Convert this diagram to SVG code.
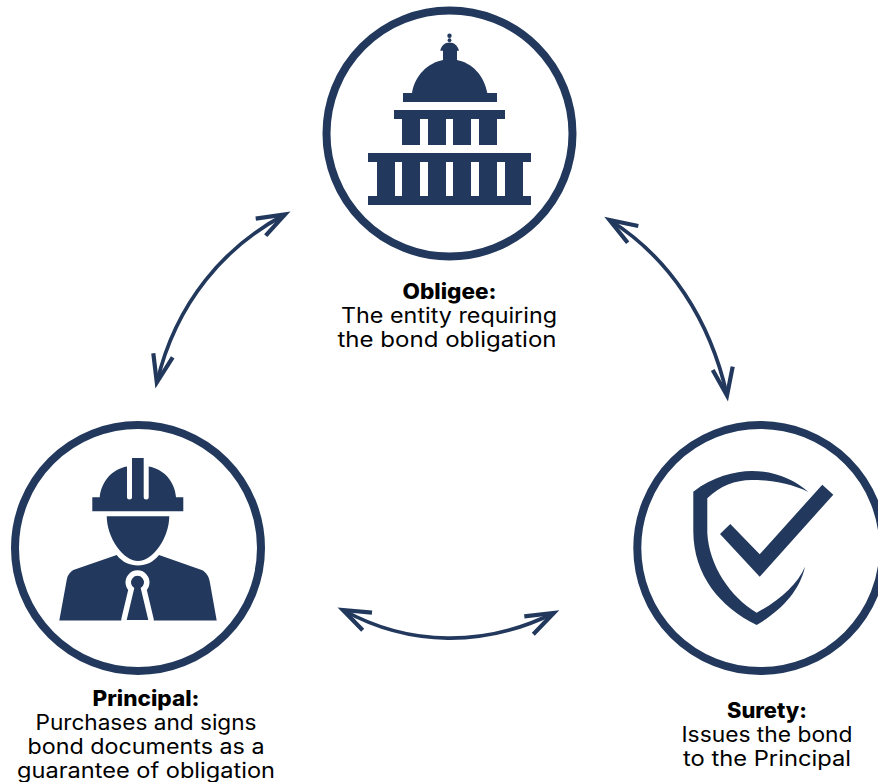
<svg xmlns="http://www.w3.org/2000/svg" width="878" height="782" viewBox="0 0 878 782">
<style>
.ring{fill:#fff;stroke:#22395d;stroke-width:8}
.ic{fill:#22395d}
.tie{fill:#22395d;stroke:#fff;stroke-width:11;stroke-linejoin:round;paint-order:stroke}
.arc{fill:none;stroke:#22395d;stroke-width:3.7}
.head{fill:none;stroke:#22395d;stroke-width:4.200}
text{font-family:"Inter","Liberation Sans",sans-serif;font-size:21px;fill:#000;text-anchor:middle}
.b{font-weight:800}
</style>
<rect width="878" height="782" fill="#fff"/>
<g id="connectors">
<path class="arc" d="M285 214.500C225 246 176 302 157 382"/>
<path class="head" d="M255.700 218.700L285 214.500L265.700 235.700M153.300 353.300L156.800 382.500L172.700 357.300"/>
<path class="arc" d="M609.500 220C670 258 710 320 727 395"/>
<path class="head" d="M638.300 226L609.500 220L627.700 242.700M712.700 370L727 395.500L732.700 366.700"/>
<path class="arc" d="M343 610C410 647 485 647 554 613"/>
<path class="head" d="M372 612.700L343 610L362.700 630.300M524.300 616.300L553.800 613L533.300 634.300"/>
</g>
<g id="obligee">
<circle class="ring" cx="449.500" cy="133.500" r="123"/>
<path class="ic" fill-rule="evenodd" d="M368 153H531V162H523V196H531V205H368V196H377V162H368ZM395 162V196H402V162ZM420 162V196H428V162ZM446 162V196H453V162ZM471 162V196H479V162ZM497 162V196H505V162Z"/>
<path class="ic" d="M394 110H505V119H497V145H479V119H471V145H453V119H446V145H428V119H420V145H402V119H394Z"/>
<path class="ic" d="M403 93H412C415 75 428 63 443 60V50.700H440.300C441 46 445 42.500 449.500 42.500C454 42.500 458 46 459 50.700H457V60C472 63 484 75 487.300 93H497V102H403Z"/>
<circle class="ic" cx="449.500" cy="35.700" r="2.200"/>
<circle class="ic" cx="449.500" cy="40.200" r="1.900"/>
<text class="b" x="449.500" y="298.500" textLength="94" lengthAdjust="spacingAndGlyphs">Obligee:</text>
<text x="449" y="322.500" textLength="216" lengthAdjust="spacingAndGlyphs">The entity requiring</text>
<text x="447" y="346.500" textLength="219" lengthAdjust="spacingAndGlyphs">the bond obligation</text>
</g>
<g id="principal">
<circle class="ring" cx="138" cy="548" r="123"/>
<path class="ic" d="M92.300 511.300V497.300H99.700C101 482 112 469 127 466.500V497A2.500 2.500 0 0 0 132 497V458H143.700V497A2.500 2.500 0 0 0 148.700 497V466.500C164 469 175 482 176 497.300H183.300V511.300Z"/>
<path class="ic" d="M106.700 516.300H169.300C169 538 153 561 138 561C123 561 107 538 106.700 516.300Z"/>
<path class="ic" d="M59.300 620.500L66.700 580C67.500 575 70 572 73.300 570L116.700 555C122 562 130 565.500 138 565.500C146 565.500 153.500 562 159 555L201.700 570C206 572 209 576 210 583L216.700 620.500Z"/>
<path class="tie" d="M134.300 588L126.700 620H148.300L140.700 588A6.500 6.500 0 1 0 134.300 588Z"/>
<text class="b" x="146" y="705.500" textLength="107" lengthAdjust="spacingAndGlyphs">Principal:</text>
<text x="146" y="729.500" textLength="221" lengthAdjust="spacingAndGlyphs">Purchases and signs</text>
<text x="146" y="753.500" textLength="237" lengthAdjust="spacingAndGlyphs">bond documents as a</text>
<text x="146" y="777.500" textLength="258" lengthAdjust="spacingAndGlyphs">guarantee of obligation</text>
</g>
<g id="surety">
<circle class="ring" cx="760.300" cy="548" r="123"/>
<path class="ic" d="M693.300 491.700C712 477 735 471 751.700 471C775 471 795 480 808.300 492C790 483 770 480 751.700 480C735 480 720 486 707.300 498.300V533C709 565 730 597 756.700 612.700C780 600 797 585 805 566.700C800 590 782 610 756.700 625C720 607 693 575 693.300 530Z"/>
<path class="ic" d="M720 534L730.300 524L759.700 554.300L822.300 484.700L833.300 494.700L759.700 576.700Z"/>
<text class="b" x="767" y="717.500" textLength="80" lengthAdjust="spacingAndGlyphs">Surety:</text>
<text x="767" y="741.500" textLength="171" lengthAdjust="spacingAndGlyphs">Issues the bond</text>
<text x="767" y="765.500" textLength="168" lengthAdjust="spacingAndGlyphs">to the Principal</text>
</g>
</svg>
